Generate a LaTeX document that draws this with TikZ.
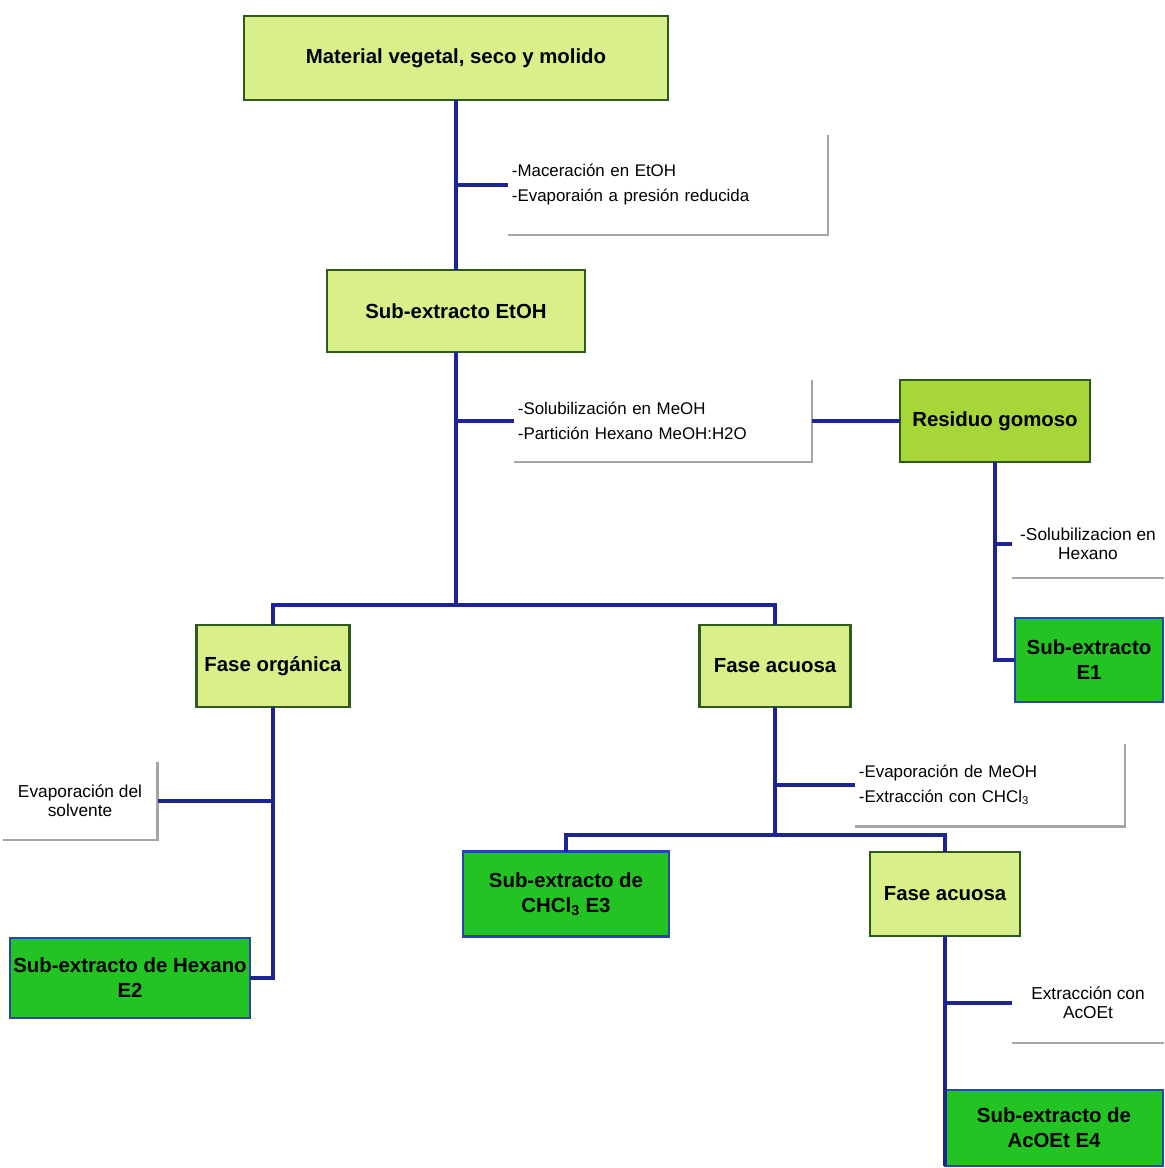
\documentclass[tikz,border=0pt]{standalone}
\usepackage{fontspec}
\setmainfont{Liberation Sans}
\definecolor{lightg}{RGB}{217,240,138}
\definecolor{midg}{RGB}{166,214,56}
\definecolor{brightg}{RGB}{34,195,34}
\definecolor{dkgreen}{RGB}{46,90,26}
\definecolor{bordblue}{RGB}{40,70,170}
\definecolor{linkblue}{RGB}{28,36,150}
\definecolor{shadowgray}{RGB}{165,165,165}
\tikzset{
  sz/.style 2 args={minimum width=#1*0.025cm, minimum height=#2*0.025cm},
  base/.style={rectangle, inner sep=1pt, outer sep=0pt, align=center,
    font=\fontsize{14.5}{17.8}\selectfont\bfseries, line width=2pt},
  light/.style={base, fill=lightg, draw=dkgreen},
  mid/.style={base, fill=midg, draw=dkgreen},
  result/.style={base, fill=brightg, draw=bordblue},
  note/.style={rectangle, fill=white, inner sep=0pt, outer sep=0pt,
    font=\fontsize{12}{17.8}\selectfont},
  notec/.style={note, align=center, font=\fontsize{12.3}{13.6}\selectfont},
  link/.style={draw=linkblue, line width=2.2pt},
  shade/.style={draw=shadowgray, line width=1.5pt},
}
\begin{document}
\begin{tikzpicture}[x=0.025cm, y=-0.025cm]
\useasboundingbox[fill=white] (0,0) rectangle (1164,1168);

% main boxes
\node[light, sz={424}{84}] (top) at (456,58) {Material vegetal, seco y molido};
\node[light, sz={258}{82}] (etoh) at (456,311) {Sub-extracto EtOH};
\node[mid, sz={190}{82}] (resid) at (995,421) {Residuo gomoso};
\node[result, sz={148}{84}] (E1) at (1089,660) {Sub-extracto\\E1};
\node[light, sz={153}{82}] (forg) at (273,666) {Fase orgánica};
\node[light, sz={151}{82}] (facu) at (775,666) {Fase acuosa};
\node[result, sz={240}{80}] (E2) at (130,978) {Sub-extracto de Hexano\\E2};
\node[result, sz={206}{85}] (E3) at (566,894) {Sub-extracto de\\CHCl\textsubscript{3} E3};
\node[light, sz={150}{84}] (facu2) at (945,894) {Fase acuosa};
\node[result, sz={218}{76}] (E4) at (1054,1128) {Sub-extracto de\\AcOEt E4};

% annotation boxes
\node[note, sz={320}{100}, text width=7.8cm, align=left, inner xsep=0.1cm] (ann1) at (668,185)
  {-Maceración en EtOH\\-Evaporaión a presión reducida};
\node[note, sz={298}{82}, text width=7.25cm, align=left, inner xsep=0.1cm] (ann2) at (663,421)
  {-Solubilización en MeOH\\-Partición Hexano MeOH:H2O};
\node[notec, sz={152}{68}] (ann3) at (1088,544) {-Solubilizacion en\\Hexano};
\node[notec, sz={155}{78}] (annE) at (80,801) {Evaporación del\\solvente};
\node[note, sz={270}{83}, text width=6.55cm, align=left, inner xsep=0.1cm] (ann4) at (990,785)
  {-Evaporación de MeOH\\-Extracción con CHCl\textsubscript{3}};
\node[notec, sz={152}{80}] (ann5) at (1088,1003) {Extracción con\\AcOEt};

% shadows of annotation boxes
\draw[shade] (ann1.north east) -- (ann1.south east) -- (ann1.south west);
\draw[shade] (ann2.north east) -- (ann2.south east) -- (ann2.south west);
\draw[shade] (ann4.north east) -- (ann4.south east) -- (ann4.south west);
\draw[shade] (annE.north east) -- (annE.south east) -- (annE.south west);
\draw[shade] (ann3.south west) -- (ann3.south east);
\draw[shade] (ann5.south west) -- (ann5.south east);

% branch points
\coordinate (b1) at (456,605);
\coordinate (b2) at (775,835);

% connectors
\draw[link] (top.south) -- (etoh.north);
\draw[link] (ann1.west -| top.south) -- (ann1.west);
\draw[link] (etoh.south) -- (b1);
\draw[link] (forg.north) -- (forg.north |- b1) -- (facu.north |- b1) -- (facu.north);
\draw[link] (ann2.west -| etoh.south) -- (ann2.west);
\draw[link] (ann2.east) -- (resid.west);
\draw[link] (resid.south) |- (E1.west);
\draw[link] (ann3.west -| resid.south) -- (ann3.west);
\draw[link] (forg.south) |- (E2.east);
\draw[link] (annE.east -| forg.south) -- (annE.east);
\draw[link] (facu.south) -- (b2);
\draw[link] (E3.north) -- (E3.north |- b2) -- (facu2.north |- b2) -- (facu2.north);
\draw[link] (ann4.west -| facu.south) -- (ann4.west);
\draw[link] (facu2.south) -- (E4.south west);
\draw[link] (ann5.west -| facu2.south) -- (ann5.west);
\end{tikzpicture}
\end{document}
